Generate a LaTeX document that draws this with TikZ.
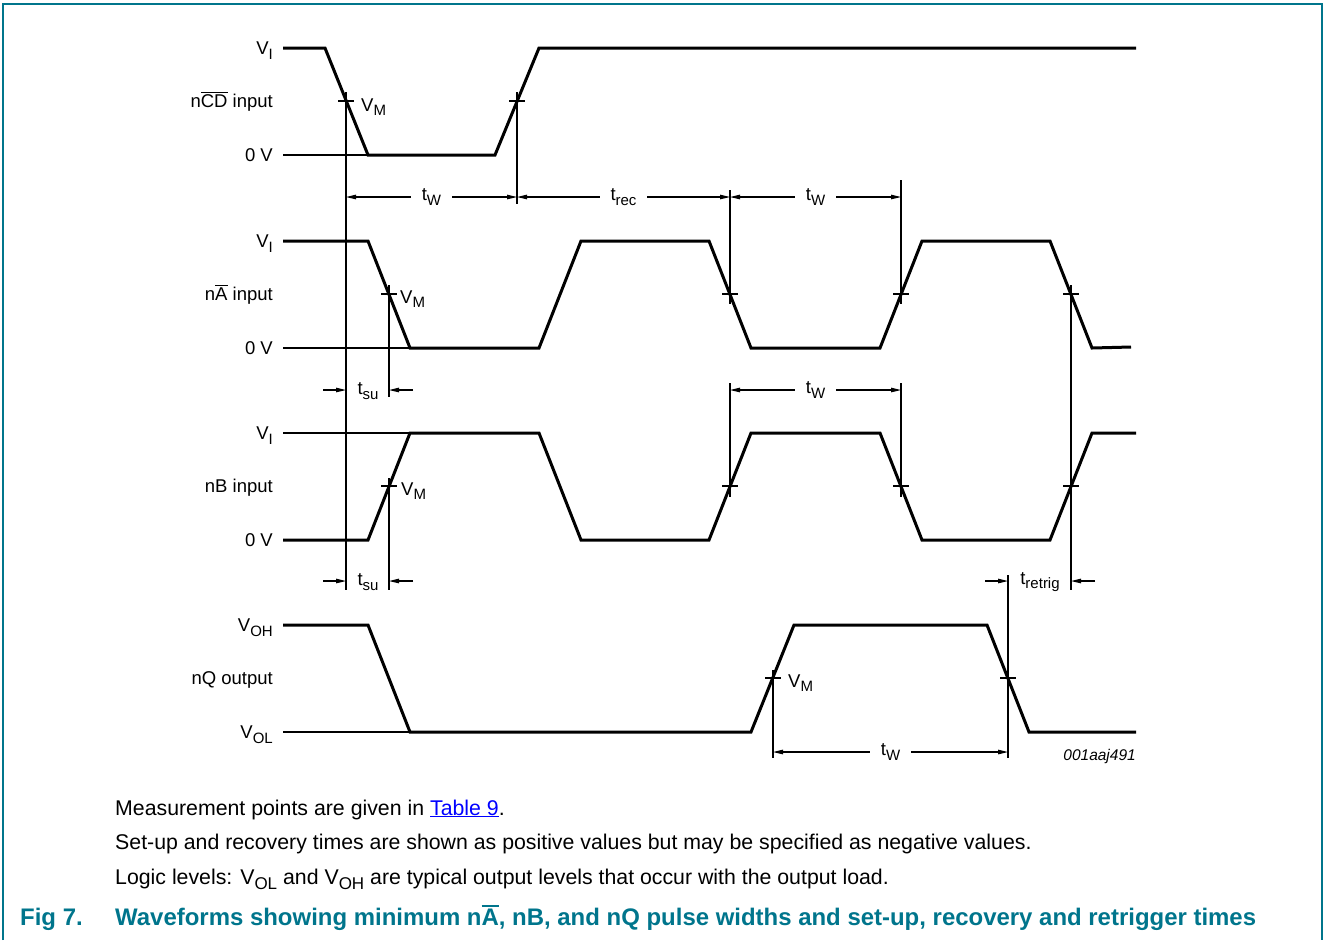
\documentclass[tikz,border=0pt]{standalone}
\usepackage{fontspec}
\setmainfont{Liberation Sans}
\usetikzlibrary{arrows.meta}
\definecolor{figteal}{RGB}{0,117,140}
\definecolor{linkblue}{RGB}{0,0,255}
\newcommand{\lblfont}{\fontsize{18.5}{22}\selectfont}
\newcommand{\lo}[2][15]{\raisebox{-0.45ex}{\fontsize{#1}{#1}\selectfont #2}}
\newcommand{\ovl}[2][1.3pt]{\leavevmode\vbox{\hrule height #1\kern1.6pt\hbox{#2}}}

\begin{document}
\begin{tikzpicture}[x=1pt,y=-1pt,
  wave/.style={line width=3pt,line join=miter},
  refline/.style={line width=1.1pt},
  dimline/.style={line width=1.1pt,{Triangle[length=10pt,width=4.5pt]}-{Triangle[length=10pt,width=4.5pt]}},
  halfdim/.style={line width=1.1pt,-{Triangle[length=10pt,width=4.5pt]}},
  lbl/.style={anchor=base east,yshift=-6.6pt,inner sep=0pt,font=\lblfont},
  vmlbl/.style={anchor=base west,inner sep=0pt,font=\lblfont},
  tlbl/.style={fill=white,inner xsep=11pt,inner ysep=1pt,font=\lblfont}]
\useasboundingbox (0,0) rectangle (1324,940);

%frame
\draw[figteal,line width=2.5pt] (3,940) -- (3,4) -- (1322,4) -- (1322,940);

%level labels
\node[lbl] (cdvi) at (273,48) {V\lo{I}};
\node[lbl] (cdname) at (273,101) {n\ovl{CD} input};
\node[lbl] (cdlo) at (273,155) {0 V};
\node[lbl] (avi) at (273,241) {V\lo{I}};
\node[lbl] (aname) at (273,294) {n\ovl{A} input};
\node[lbl] (alo) at (273,348) {0 V};
\node[lbl] (bvi) at (273,433) {V\lo{I}};
\node[lbl] (bname) at (273,486) {nB input};
\node[lbl] (blo) at (273,540) {0 V};
\node[lbl] (qvoh) at (273,625) {V\lo{OH}};
\node[lbl] (qname) at (273,678) {nQ output};
\node[lbl] (qvol) at (273,732) {V\lo{OL}};

%reference levels
\draw[refline] (283,155) -- (368,155);
\draw[refline] (283,348) -- (410,348);
\draw[refline] (283,433) -- (410,433);
\draw[refline] (283,732) -- (410,732);

%waveforms
\draw[wave] (283,48) -- (325,48) -- (368,155) -- (495,155) -- (539,48) -- (1136,48);
\draw[wave] (283,241) -- (368,241) -- (410,348) -- (539,348) -- (581,241) -- (709,241) -- (751,348) -- (880,348) -- (922,241) -- (1050,241) -- (1092,348) -- (1131,347);
\draw[wave] (283,540) -- (368,540) -- (410,433) -- (539,433) -- (581,540) -- (709,540) -- (751,433) -- (880,433) -- (922,540) -- (1050,540) -- (1092,433) -- (1136,433);
\draw[wave] (283,625) -- (368,625) -- (410,732) -- (751,732) -- (794,625) -- (987,625) -- (1029,732) -- (1136,732);

%V_M ticks
\foreach \x/\y in {346/101,517/101,389/294,730/294,901/294,1071/294,389/486,730/486,901/486,1071/486,773/678,1008/678}
  \draw[refline] (\x-8,\y) -- (\x+8,\y);

%vertical markers
\foreach \x/\ya/\yb in {346/92/590,517/92/204,730/190/304,901/180/304,1071/285/590,389/285/397,730/383/497,901/383/497,389/478/590,1008/575/758,773/670/758}
  \draw[refline] (\x,\ya) -- (\x,\yb);

\node[vmlbl] (vm1) at (361,111) {V\lo{M}};
\node[vmlbl] (vm2) at (400,303) {V\lo{M}};
\node[vmlbl] (vm3) at (401,495) {V\lo{M}};
\node[vmlbl] (vm4) at (788,687) {V\lo{M}};

%timing
\coordinate (w1l) at (346,197);
\coordinate (w1r) at (517,197);
\coordinate (recr) at (730,197);
\coordinate (w2r) at (901,197);
\draw[dimline] (w1l) -- (w1r) node[tlbl,midway] (tw1) {t\lo{W}};
\draw[dimline] (w1r) -- (recr) node[tlbl,midway] (trec) {t\lo{rec}};
\draw[dimline] (recr) -- (w2r) node[tlbl,midway] (tw2) {t\lo{W}};

\coordinate (w3l) at (730,390);
\coordinate (w3r) at (901,390);
\draw[dimline] (w3l) -- (w3r) node[tlbl,midway] (tw3) {t\lo{W}};

\coordinate (w4l) at (773,752);
\coordinate (w4r) at (1008,752);
\draw[dimline] (w4l) -- (w4r) node[tlbl,midway] (tw4) {t\lo{W}};

\node[font=\lblfont,inner sep=0pt] (tsu1) at (368,391) {t\lo{su}};
\coordinate (su1a) at (346,390);
\coordinate (su1b) at (389,390);
\draw[halfdim] ([xshift=-23pt]su1a) -- (su1a);
\draw[halfdim] ([xshift=24pt]su1b) -- (su1b);

\node[font=\lblfont,inner sep=0pt] (tsu2) at (368,582) {t\lo{su}};
\coordinate (su2a) at (346,581);
\coordinate (su2b) at (389,581);
\draw[halfdim] ([xshift=-23pt]su2a) -- (su2a);
\draw[halfdim] ([xshift=24pt]su2b) -- (su2b);

\node[font=\lblfont,inner sep=0pt] (tret) at (1040,582) {t\lo{retrig}};
\coordinate (reta) at (1008,581);
\coordinate (retb) at (1071,581);
\draw[halfdim] ([xshift=-23pt]reta) -- (reta);
\draw[halfdim] ([xshift=24pt]retb) -- (retb);

\node[anchor=base east,inner sep=0pt,font=\fontsize{15.5}{18}\selectfont\itshape] (figid) at (1136,760) {001aaj491};

%notes
\node[anchor=base west,inner sep=0pt,font=\fontsize{21.3}{24}\selectfont] (note1) at (115,815) {Measurement points are given in \textcolor{linkblue}{\underline{Table 9}}.};
\node[anchor=base west,inner sep=0pt,font=\fontsize{21.3}{24}\selectfont] (note2) at (115,849) {Set-up and recovery times are shown as positive values but may be specified as negative values.};
\node[anchor=base west,inner sep=0pt,font=\fontsize{21.3}{24}\selectfont] (note3) at (115,884) {Logic levels: V\lo[17]{OL} and V\lo[17]{OH} are typical output levels that occur with the output load.};

%caption
\node[anchor=base west,inner sep=0pt,text=figteal,font=\fontsize{23.95}{28}\selectfont\bfseries] (fignum) at (20,925) {Fig 7.};
\node[anchor=base west,inner sep=0pt,text=figteal,font=\fontsize{23.95}{28}\selectfont\bfseries] (figcap) at (115,925) {Waveforms showing minimum n\ovl[2.4pt]{A}, nB, and nQ pulse widths and set-up, recovery and retrigger times};
\end{tikzpicture}
\end{document}
